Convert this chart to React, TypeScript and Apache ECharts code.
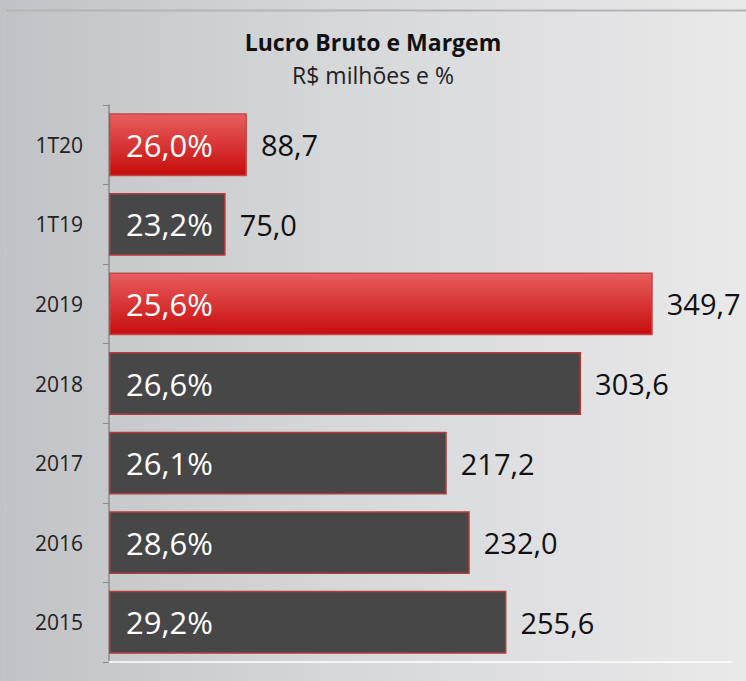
import React, { useEffect, useRef } from "react";
import * as echarts from "echarts";

const categories = ["2015", "2016", "2017", "2018", "2019", "1T19", "1T20"];
const grossProfit = [255.6, 232.0, 217.2, 303.6, 349.7, 75.0, 88.7];
const margins = ["29,2%", "28,6%", "26,1%", "26,6%", "25,6%", "23,2%", "26,0%"];
const highlighted = ["2019", "1T20"];
const titleText = "Lucro Bruto e Margem";
const subtitleText = "R$ milhões e %";

const FONT = "'Open Sans', 'DejaVu Sans', sans-serif";

export default function App() {
  const ref = useRef<HTMLDivElement>(null);
  useEffect(() => {
    document.body.style.margin = "0";
    if (!ref.current) return;
    const chart = echarts.init(ref.current, undefined, { renderer: "svg" });
    const red = new echarts.graphic.LinearGradient(0, 0, 0, 1, [
      { offset: 0, color: "#e85e5e" },
      { offset: 1, color: "#c70c0c" },
    ]);
    const data = grossProfit.map((v, i) => {
      const hi = highlighted.includes(categories[i]);
      return {
        value: v,
        itemStyle: hi
          ? { color: red, borderColor: "#c24848", borderWidth: 1.5 }
          : { color: "#474747", borderColor: "#b83a3a", borderWidth: 1.5 },
      };
    });
    chart.setOption({
      animation: false,
      backgroundColor: "transparent",
      title: [
        {
          text: titleText,
          left: "center",
          top: 25,
          textStyle: { fontFamily: FONT, fontSize: 23, fontWeight: "bold", color: "#111" },
        },
        {
          text: subtitleText,
          left: "center",
          top: 58,
          textStyle: { fontFamily: FONT, fontSize: 23, fontWeight: "normal", color: "#222" },
        },
      ],
      graphic: [
        { type: "line", shape: { x1: 5, y1: 10.5, x2: 746, y2: 10.5 }, style: { stroke: "#b4b4b6", lineWidth: 2 } },
        { type: "line", shape: { x1: 5.5, y1: 10, x2: 5.5, y2: 681 }, style: { stroke: "#c8c8ca", lineWidth: 1 } },
      ],
      grid: { left: 109, right: 15, top: 105, bottom: 19 },
      xAxis: {
        type: "value",
        min: 0,
        max: 400,
        axisLine: { show: true, lineStyle: { color: "#ffffff", width: 1.5 } },
        axisTick: { show: false },
        axisLabel: { show: false },
        splitLine: { show: false },
      },
      yAxis: {
        type: "category",
        data: categories,
        axisLine: { show: true, lineStyle: { color: "#8a8a8a", width: 1.5 } },
        axisTick: { show: true, length: 6, lineStyle: { color: "#8a8a8a" } },
        axisLabel: { margin: 26, fontFamily: FONT, fontSize: 21, color: "#222" },
      },
      series: [
        {
          type: "bar",
          data,
          barCategoryGap: "21%",
          label: {
            show: true,
            position: "insideLeft",
            distance: 17,
            formatter: (p: any) => margins[p.dataIndex],
            fontFamily: FONT,
            fontSize: 31,
            color: "#ffffff",
          },
        },
        {
          type: "bar",
          data: grossProfit,
          barGap: "-100%",
          barCategoryGap: "21%",
          silent: true,
          itemStyle: { color: "transparent" },
          label: {
            show: true,
            position: "right",
            distance: 14,
            formatter: (p: any) => p.value.toFixed(1).replace(".", ","),
            fontFamily: FONT,
            fontSize: 29,
            color: "#111",
          },
        },
      ],
    });
    return () => chart.dispose();
  }, []);
  return (
    <div
      ref={ref}
      style={{
        width: 746,
        height: 681,
        background: "linear-gradient(90deg, #c1c2c5 0%, #d6d7d9 45%, #e9e9ea 100%)",
      }}
    />
  );
}
